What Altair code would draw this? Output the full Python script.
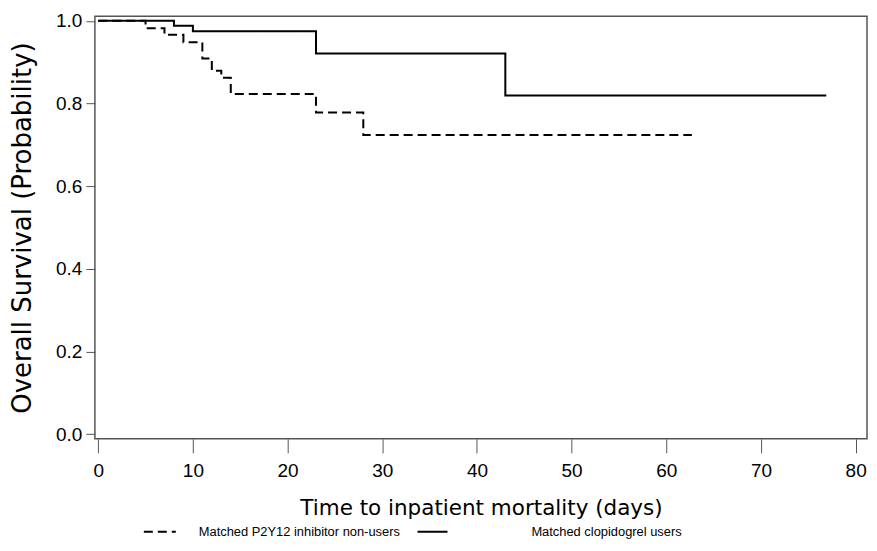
import altair as alt
import pandas as pd

# ---- data ----
group_names = ["Matched P2Y12 inhibitor non-users", "Matched clopidogrel users"]

nonuser_days = [0, 5, 7, 9, 11, 12, 13, 14, 23, 28, 62.7]
nonuser_surv = [1.0, 0.982, 0.966, 0.948, 0.909, 0.879, 0.862, 0.823, 0.778, 0.724, 0.724]

clop_days = [0, 8, 10, 23, 43, 76.9]
clop_surv = [1.0, 0.988, 0.975, 0.921, 0.819, 0.819]

x_ticks = [0, 10, 20, 30, 40, 50, 60, 70, 80]
y_ticks = [0.0, 0.2, 0.4, 0.6, 0.8, 1.0]

df_a = pd.DataFrame({"days": nonuser_days, "surv": nonuser_surv, "group": group_names[0]})
df_b = pd.DataFrame({"days": clop_days, "surv": clop_surv, "group": group_names[1]})

FRAME = "#555555"

x_enc = alt.X(
    "days:Q",
    scale=alt.Scale(domain=[-0.35, 81.2], nice=False, zero=False),
    axis=alt.Axis(
        values=x_ticks, format="d", grid=False, domain=False,
        tickSize=14, tickColor=FRAME, tickWidth=1,
        labelFont="Liberation Sans", labelFontSize=19, labelColor="black",
        labelBaseline="middle", labelPadding=18, labelFlush=False,
        title="Time to inpatient mortality (days)",
        titleFont="DejaVu Sans", titleFontSize=21.5, titleFontWeight="normal",
        titleColor="black", titleBaseline="middle", titleY=70,
    ),
)
y_enc = alt.Y(
    "surv:Q",
    scale=alt.Scale(domain=[-0.0113, 1.0109], nice=False, zero=False),
    axis=alt.Axis(
        values=y_ticks, format=".1f", grid=False, domain=False,
        tickSize=9, tickColor=FRAME, tickWidth=1,
        labelFont="Liberation Sans", labelFontSize=19, labelColor="black",
        labelPadding=4, labelFlush=False,
        title="Overall Survival (Probability)",
        titleFont="DejaVu Sans", titleFontSize=26, titleFontWeight="normal",
        titleColor="black", titleBaseline="middle", titleX=-72,
    ),
)

legend_common = dict(
    orient="none", direction="horizontal", title=None, padding=0,
    symbolType="stroke", symbolStrokeWidth=2, symbolStrokeColor="black",
    labelFont="Liberation Sans", labelFontSize=12.9,
    labelColor="black", labelLimit=400,
)

line_a = alt.Chart(df_a).mark_line(
    interpolate="step-after", color="black", strokeWidth=2
).encode(
    x=x_enc, y=y_enc,
    strokeDash=alt.StrokeDash(
        "group:N",
        scale=alt.Scale(domain=[group_names[0]], range=[[9, 5]]),
        legend=alt.Legend(legendX=48, legendY=499, symbolSize=1024,
                          labelOffset=22, **legend_common),
    ),
)

line_b = alt.Chart(df_b).mark_line(
    interpolate="step-after", color="black", strokeWidth=2
).encode(
    x=x_enc, y=y_enc,
    strokeDash=alt.StrokeDash(
        "group:N",
        scale=alt.Scale(domain=[group_names[1]], range=[[1, 0]]),
        legend=alt.Legend(legendX=322, legendY=500, symbolSize=900,
                          labelOffset=83, **legend_common),
    ),
)

chart = (
    alt.layer(line_a, line_b)
    .resolve_scale(strokeDash="independent")
    .resolve_legend(strokeDash="independent")
    .properties(
        width=773, height=423,
        autosize=alt.AutoSizeParams(type="none"),
        padding={"left": 87, "top": 8, "right": 2, "bottom": 104},
        background="white",
    )
    .configure_view(stroke=FRAME, strokeWidth=1.5)
)

chart.save("out.html", embed_options={"renderer": "svg", "actions": False})
